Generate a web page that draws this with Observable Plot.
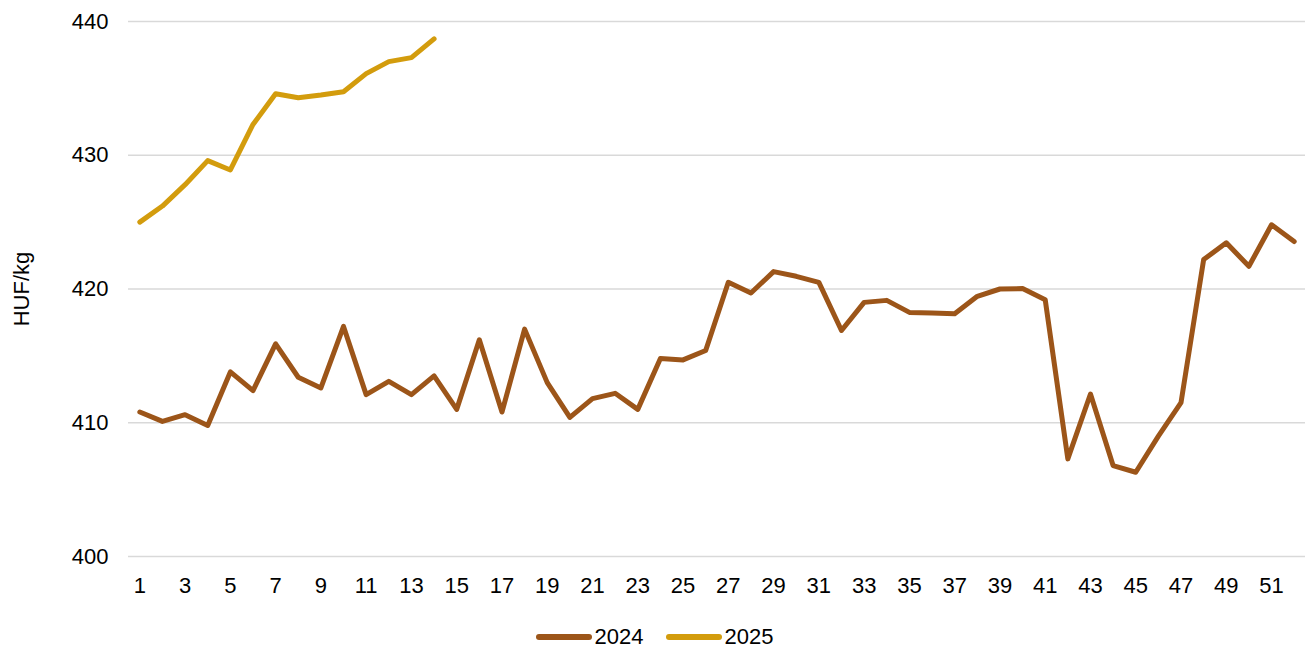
<!DOCTYPE html>
<html>
<head>
<meta charset="utf-8">
<script src="https://cdn.jsdelivr.net/npm/d3@7"></script>
<script src="https://cdn.jsdelivr.net/npm/@observablehq/plot@0.6"></script>
<style>
  body { margin: 0; background: #fff; font-family: "Liberation Sans", Arial, sans-serif; }
  #wrap { position: relative; width: 1309px; height: 649px; }
  #legend { position: absolute; left: 0; top: 624px; width: 1309px; display: flex; justify-content: center; align-items: center; font-size: 22px; color: #000; }
  .item { display: flex; align-items: center; margin: 0 11px; }
  .sw { width: 56px; height: 6px; border-radius: 3px; margin-right: 3px; }
</style>
</head>
<body>
<div id="wrap">
  <div id="chart"></div>
  <div id="legend"></div>
</div>
<script>
const weeks2024 = d3.range(1, 53);
const values2024 = [410.8, 410.1, 410.6, 409.8, 413.8, 412.4, 415.9, 413.4, 412.6, 417.2,
  412.1, 413.1, 412.1, 413.5, 411.0, 416.2, 410.8, 417.0, 413.0, 410.4,
  411.8, 412.2, 411.0, 414.8, 414.7, 415.4, 420.5, 419.7, 421.3, 420.95,
  420.5, 416.9, 419.0, 419.15, 418.25, 418.2, 418.15, 419.45, 420.0, 420.03,
  419.2, 407.3, 412.15, 406.8, 406.3, 409.0, 411.5, 422.2, 423.45, 421.7,
  424.8, 423.55];
const weeks2025 = d3.range(1, 15);
const values2025 = [425.0, 426.2, 427.8, 429.6, 428.9, 432.3, 434.6, 434.3, 434.5, 434.75,
  436.1, 437.0, 437.3, 438.7];
const seriesNames = ["2024", "2025"];
const seriesColors = ["#9C5519", "#D39C0D"];
const yTicks = [400, 410, 420, 430, 440];
const xTicks = d3.range(1, 53, 2);

const data2024 = weeks2024.map((w, i) => ({week: w, value: values2024[i], year: "2024"}));
const data2025 = weeks2025.map((w, i) => ({week: w, value: values2025[i], year: "2025"}));

const chart = Plot.plot({
  width: 1309,
  height: 610,
  marginLeft: 128,
  marginRight: 4,
  marginTop: 21,
  marginBottom: 54,
  style: {fontFamily: "'Liberation Sans', Arial, sans-serif", fontSize: "22px", color: "#000", background: "#fff"},
  x: {domain: [0.5, 52.5]},
  y: {domain: [400, 440]},
  color: {domain: seriesNames, range: seriesColors},
  marks: [
    Plot.gridY(yTicks, {stroke: "#D9D9D9", strokeOpacity: 1, strokeWidth: 1.5}),
    Plot.axisY({ticks: yTicks, tickSize: 0, tickPadding: 20, label: "HUF/kg", labelAnchor: "center", labelArrow: "none", labelOffset: 115, fontSize: 22}),
    Plot.axisX({ticks: xTicks, tickSize: 0, tickPadding: 21, label: null, fontSize: 22}),
    Plot.line(data2024, {x: "week", y: "value", stroke: "year", strokeWidth: 5, strokeLinejoin: "round", strokeLinecap: "round"}),
    Plot.line(data2025, {x: "week", y: "value", stroke: "year", strokeWidth: 5, strokeLinejoin: "round", strokeLinecap: "round"})
  ]
});
document.getElementById("chart").appendChild(chart);

const legend = document.getElementById("legend");
seriesNames.forEach((name, i) => {
  const item = document.createElement("div");
  item.className = "item";
  const sw = document.createElement("div");
  sw.className = "sw";
  sw.style.background = seriesColors[i];
  const t = document.createElement("span");
  t.textContent = name;
  item.appendChild(sw);
  item.appendChild(t);
  legend.appendChild(item);
});
</script>
</body>
</html>
